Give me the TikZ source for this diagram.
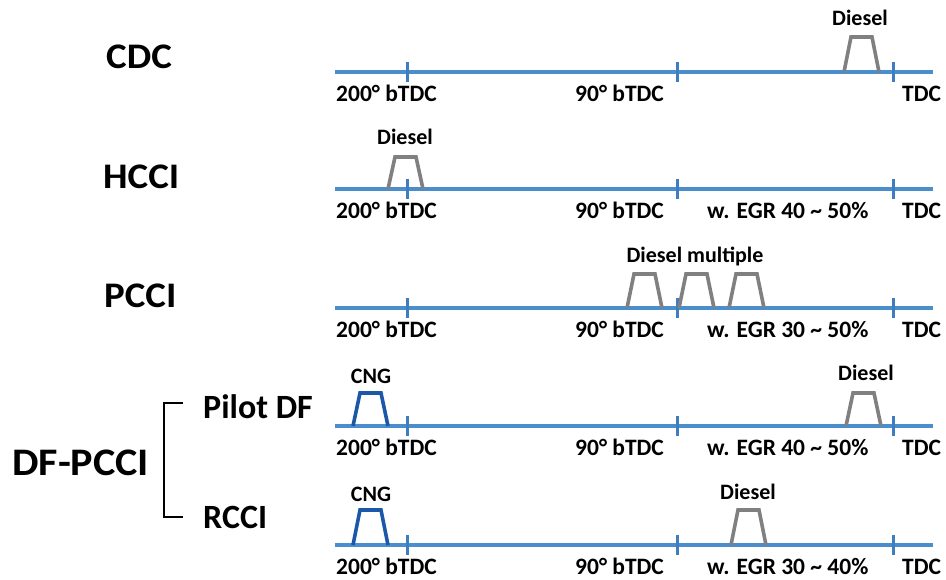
\documentclass[tikz,border=0pt]{standalone}
\usepackage{fontspec}
\setmainfont{Carlito}
\newfontfamily\bigfont{Carlito}[FakeStretch=1.08]
\definecolor{axisblue}{RGB}{74,142,206}
\definecolor{tickblue}{RGB}{62,125,192}
\definecolor{pulsegray}{RGB}{128,128,128}
\definecolor{cngblue}{RGB}{28,88,168}
\tikzset{
  axisline/.style={axisblue,line width=3.6pt},
  tickline/.style={tickblue,line width=3pt},
  axlabel/.style={anchor=base west,inner sep=0pt,font=\fontsize{23.5}{28}\selectfont\bfseries},
  plabel/.style={anchor=base,inner sep=0pt,font=\fontsize{22}{26}\selectfont\bfseries},
  biglabel/.style={anchor=base west,inner sep=0pt,font=\bigfont\fontsize{36}{42}\selectfont\bfseries},
  sublabel/.style={anchor=base west,inner sep=0pt,font=\fontsize{34}{40}\selectfont\bfseries},
  bracketline/.style={black,line width=2.6pt}
}
\newcommand{\mypulse}[5]{%
  \coordinate (#1p1) at (#2,#3);
  \coordinate (#1p2) at (#2+7,#4);
  \coordinate (#1p3) at (#2+28,#4);
  \coordinate (#1p4) at (#2+35,#3);
  \draw[#5] (#1p1) -- (#1p2) -- (#1p3) -- (#1p4);
}
\begin{document}
\begin{tikzpicture}[x=1pt,y=-1pt]
\useasboundingbox (0,0) rectangle (946,579);
% axes and ticks
\foreach \r/\yy in {a/72,b/189,c/308,d/426,e/545}{
  \coordinate (\r s) at (335,\yy);
  \coordinate (\r e) at (933,\yy);
  \draw[axisline] (\r s) -- (\r e);
  \foreach \t/\xx in {1/407,2/677,3/893}{
    \coordinate (\r t\t a) at (\xx,\yy-10);
    \coordinate (\r t\t b) at (\xx,\yy+10);
    \draw[tickline] (\r t\t a) -- (\r t\t b);
  }
  \node[axlabel] (\r L1) at (336,\yy+29) {200° bTDC};
  \node[axlabel] (\r L2) at (575,\yy+29) {90° bTDC};
  \node[axlabel] (\r L4) at (902,\yy+29) {TDC};
}
\node[axlabel] (bL3) at (707,218) {w. EGR 40 \char`\~{} 50\%};
\node[axlabel] (cL3) at (707,337) {w. EGR 30 \char`\~{} 50\%};
\node[axlabel] (dL3) at (707,455) {w. EGR 40 \char`\~{} 50\%};
\node[axlabel] (eL3) at (707,574) {w. EGR 30 \char`\~{} 40\%};
% pulses
\mypulse{cdc}{844}{72}{37}{pulsegray,line width=3.6pt}
\mypulse{hcci}{388}{189}{157}{pulsegray,line width=3.6pt}
\mypulse{pcA}{627}{308}{274}{pulsegray,line width=3.6pt}
\mypulse{pcB}{679}{308}{274}{pulsegray,line width=3.6pt}
\mypulse{pcC}{729}{308}{274}{pulsegray,line width=3.6pt}
\mypulse{pdC}{353}{426}{393}{cngblue,line width=3.6pt}
\mypulse{pdD}{846}{426}{393}{pulsegray,line width=3.6pt}
\mypulse{rcC}{353}{545}{510}{cngblue,line width=3.6pt}
\mypulse{rcD}{731}{545}{510}{pulsegray,line width=3.6pt}
% pulse labels
\node[plabel] (cdcT) at (860,25) {Diesel};
\node[plabel] (hcciT) at (405,144) {Diesel};
\node[plabel] (pcT) at (695,262) {Diesel multiple};
\node[plabel] (pdCT) at (371,383) {CNG};
\node[plabel] (pdDT) at (866,380) {Diesel};
\node[plabel] (rcCT) at (371,501) {CNG};
\node[plabel] (rcDT) at (748,499) {Diesel};
% left labels
\node[biglabel] (CDC) at (106,68) {CDC};
\node[biglabel] (HCCI) at (103,188) {HCCI};
\node[biglabel] (PCCI) at (104,307) {PCCI};
\node[biglabel,font=\bigfont\fontsize{39}{46}\selectfont\bfseries] (DF) at (12,475) {DF-PCCI};
\node[sublabel] (PDF) at (203,418) {Pilot DF};
\node[sublabel] (RCCI) at (203,528) {RCCI};
% bracket
\coordinate (brA) at (183,403);
\coordinate (brB) at (164,403);
\coordinate (brC) at (164,517);
\coordinate (brD) at (183,517);
\draw[bracketline] (brA) -- (brB) -- (brC) -- (brD);
\end{tikzpicture}
\end{document}
